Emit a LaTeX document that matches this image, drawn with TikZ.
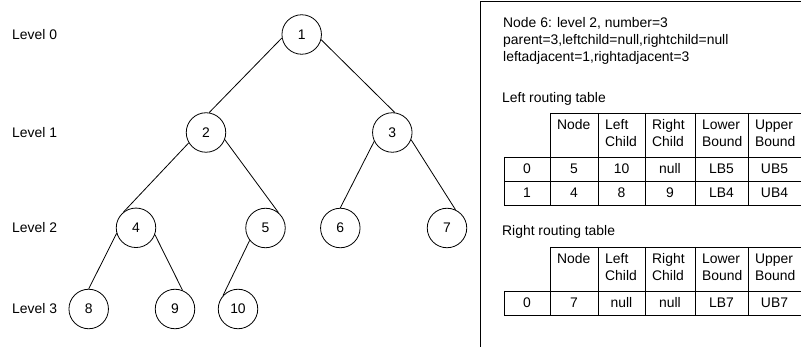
\documentclass[tikz,border=0pt]{standalone}
\usepackage{fontspec}
\setmainfont{Liberation Sans}
\begin{document}
\begin{tikzpicture}[x=1pt,y=-1pt,
  every node/.style={font=\fontsize{13.9}{17}\selectfont},
  tnode/.style={draw, circle, minimum size=39.5pt, inner sep=0pt, line width=0.8pt},
  edge/.style={line width=0.8pt},
  lbl/.style={anchor=west, inner sep=0pt},
  txt/.style={anchor=base west, inner sep=0pt},
  ctxt/.style={anchor=base, inner sep=0pt},
  gridline/.style={line width=0.8pt}]
\useasboundingbox (0,0) rectangle (801,347);

% level labels
\node[lbl] (l0) at (12,34.5) {Level 0};
\node[lbl] (l1) at (12,132.5) {Level 1};
\node[lbl] (l2) at (12,228) {Level 2};
\node[lbl] (l3) at (12,309) {Level 3};

% tree nodes
\node[tnode] (n1) at (301.7,34.5) {1};
\node[tnode] (n2) at (206,132.5) {2};
\node[tnode] (n3) at (392.3,132.5) {3};
\node[tnode] (n4) at (136,227.8) {4};
\node[tnode] (n5) at (265.5,228) {5};
\node[tnode] (n6) at (340.3,228) {6};
\node[tnode] (n7) at (447,228) {7};
\node[tnode] (n8) at (88.7,309) {8};
\node[tnode] (n9) at (175,309) {9};
\node[tnode] (n10) at (238,309) {10};

% edges
\draw[edge] (n1.190) -- (n2.81);
\draw[edge] (n1.-15) -- (n3.83);
\draw[edge] (n2.211) -- (n4.128);
\draw[edge] (n2.-21) -- (n5.50);
\draw[edge] (n3.206) -- (n6.90);
\draw[edge] (n3.-21) -- (n7.65);
\draw[edge] (n4.196) -- (n8.90);
\draw[edge] (n4.-20) -- (n9.68);
\draw[edge] (n5.218) -- (n10.138);

% right panel border
\draw[line width=1.2pt] (480.5,347) -- (480.5,1.5) -- (801,1.5);

% info text
\node[txt] (i1) at (503,27.3) {Node 6: level 2, number=3};
\node[txt] (i2) at (503,44.5) {parent=3,leftchild=null,rightchild=null};
\node[txt] (i3) at (503,61.7) {leftadjacent=1,rightadjacent=3};

\node[txt] (lrt) at (502,102.3) {Left routing table};
\node[txt] (rrt) at (502,236) {Right routing table};

% ---------- left routing table ----------
\draw[gridline] (550,113) -- (801,113);
\foreach \yy in {157,181,205} \draw[gridline] (504,\yy) -- (801,\yy);
\foreach \xx in {550,598,645,695,748} \draw[gridline] (\xx,113) -- (\xx,205);
\draw[gridline] (504,157) -- (504,205);

\node[txt] (ha1) at (557,129.5) {Node};
\node[txt] (hb1) at (605,129.5) {Left};
\node[txt] (hb2) at (605,146.5) {Child};
\node[txt] (hc1) at (652,129.5) {Right};
\node[txt] (hc2) at (652,146.5) {Child};
\node[txt] (hd1) at (702,129.5) {Lower};
\node[txt] (hd2) at (702,146.5) {Bound};
\node[txt] (he1) at (755,129.5) {Upper};
\node[txt] (he2) at (755,146.5) {Bound};

\node[ctxt] (r0a) at (527,174) {0};
\node[ctxt] (r0b) at (574,174) {5};
\node[ctxt] (r0c) at (621.5,174) {10};
\node[ctxt] (r0d) at (670,174) {null};
\node[ctxt] (r0e) at (721.5,174) {LB5};
\node[ctxt] (r0f) at (774.5,174) {UB5};

\node[ctxt] (r1a) at (527,198) {1};
\node[ctxt] (r1b) at (574,198) {4};
\node[ctxt] (r1c) at (621.5,198) {8};
\node[ctxt] (r1d) at (670,198) {9};
\node[ctxt] (r1e) at (721.5,198) {LB4};
\node[ctxt] (r1f) at (774.5,198) {UB4};

% ---------- right routing table ----------
\draw[gridline] (550,247) -- (801,247);
\foreach \yy in {291,315} \draw[gridline] (504,\yy) -- (801,\yy);
\foreach \xx in {550,598,645,695,748} \draw[gridline] (\xx,247) -- (\xx,315);
\draw[gridline] (504,291) -- (504,315);

\node[txt] (ga1) at (557,263.5) {Node};
\node[txt] (gb1) at (605,263.5) {Left};
\node[txt] (gb2) at (605,280.5) {Child};
\node[txt] (gc1) at (652,263.5) {Right};
\node[txt] (gc2) at (652,280.5) {Child};
\node[txt] (gd1) at (702,263.5) {Lower};
\node[txt] (gd2) at (702,280.5) {Bound};
\node[txt] (ge1) at (755,263.5) {Upper};
\node[txt] (ge2) at (755,280.5) {Bound};

\node[ctxt] (s0a) at (527,308) {0};
\node[ctxt] (s0b) at (574,308) {7};
\node[ctxt] (s0c) at (621.5,308) {null};
\node[ctxt] (s0d) at (670,308) {null};
\node[ctxt] (s0e) at (721.5,308) {LB7};
\node[ctxt] (s0f) at (774.5,308) {UB7};
\end{tikzpicture}
\end{document}
